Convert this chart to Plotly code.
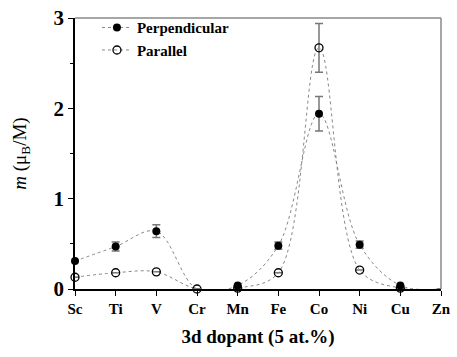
import plotly.graph_objects as go

elements = ["Sc", "Ti", "V", "Cr", "Mn", "Fe", "Co", "Ni", "Cu", "Zn"]
perp = [0.31, 0.47, 0.64, 0.0, 0.04, 0.48, 1.94, 0.49, 0.04, 0.0]
perp_err = [0.0, 0.05, 0.07, 0.0, 0.0, 0.04, 0.19, 0.04, 0.0, 0.0]
perp_shown = [True, True, True, False, True, True, True, True, True, False]
para = [0.13, 0.18, 0.19, 0.0, 0.01, 0.18, 2.67, 0.21, 0.01, 0.0]
para_err = [0.0, 0.0, 0.0, 0.0, 0.0, 0.0, 0.27, 0.0, 0.0, 0.0]
para_shown = [True, True, True, True, True, True, True, True, True, False]

xs = list(range(len(elements)))
font = "Liberation Serif"
clear = "rgba(0,0,0,0)"

fig = go.Figure()
fig.add_trace(go.Scatter(
    x=xs, y=para, name="<b>Parallel</b>", mode="lines+markers",
    line=dict(shape="spline", smoothing=1.0, dash="dot", color="#888", width=1),
    marker=dict(symbol="circle-open", size=8, color=["black" if s else clear for s in para_shown],
                line=dict(width=1.3, color=["black" if s else clear for s in para_shown])),
    error_y=dict(type="data", array=para_err, color="#777", thickness=1.5, width=4),
    cliponaxis=False,
))
fig.add_trace(go.Scatter(
    x=xs, y=perp, name="<b>Perpendicular</b>", mode="lines+markers",
    line=dict(shape="spline", smoothing=1.0, dash="dot", color="#888", width=1),
    marker=dict(symbol="circle", size=8, color=["black" if s else clear for s in perp_shown],
                line=dict(width=0)),
    error_y=dict(type="data", array=perp_err, color="#777", thickness=1.5, width=4),
    cliponaxis=False,
))

fig.update_layout(
    width=457, height=357,
    margin=dict(l=75, r=6, t=10, b=68),
    plot_bgcolor="white", paper_bgcolor="white",
    showlegend=True,
    legend=dict(x=0.06, y=1.025, xanchor="left", yanchor="top",
                traceorder="reversed", bgcolor="rgba(0,0,0,0)",
                font=dict(family=font, size=15, color="black"),
                itemwidth=30, tracegroupgap=0),
    font=dict(family=font, color="black"),
    xaxis=dict(
        range=[0, 9], tickvals=xs, ticktext=["<b>%s</b>" % e for e in elements],
        ticklabeloverflow="allow",
        showline=True, linecolor="black", linewidth=1.5,
        ticks="outside", ticklen=5, tickcolor="black",
        tickfont=dict(family=font, size=15, color="black"),
        showgrid=False, zeroline=False,
        title=dict(text="<b>3d dopant (5 at.%)</b>", standoff=14,
                   font=dict(family=font, size=19, color="black")),
    ),
    yaxis=dict(
        range=[0, 3], tickvals=[0, 1, 2, 3], ticktext=["<b>0</b>", "<b>1</b>", "<b>2</b>", "<b>3</b>"],
        ticklabeloverflow="allow",
        showline=True, linecolor="black", linewidth=1.5,
        ticks="outside", ticklen=5, tickcolor="black",
        minor=dict(ticks="outside", ticklen=3, dtick=0.5, tickcolor="black"),
        tickfont=dict(family=font, size=21, color="black"),
        showgrid=False, zeroline=False,
        title=dict(text="<i>m</i> (μ<sub>B</sub>/M)", standoff=22,
                   font=dict(family=font, size=19, color="black")),
    ),
    shapes=[
        dict(type="line", xref="paper", yref="paper", x0=0, x1=1, y0=1, y1=1,
             line=dict(color="#888", width=1.5)),
        dict(type="line", xref="paper", yref="paper", x0=1, x1=1, y0=0, y1=1,
             line=dict(color="#888", width=1.5)),
    ],
)

fig.write_html("out.html")
